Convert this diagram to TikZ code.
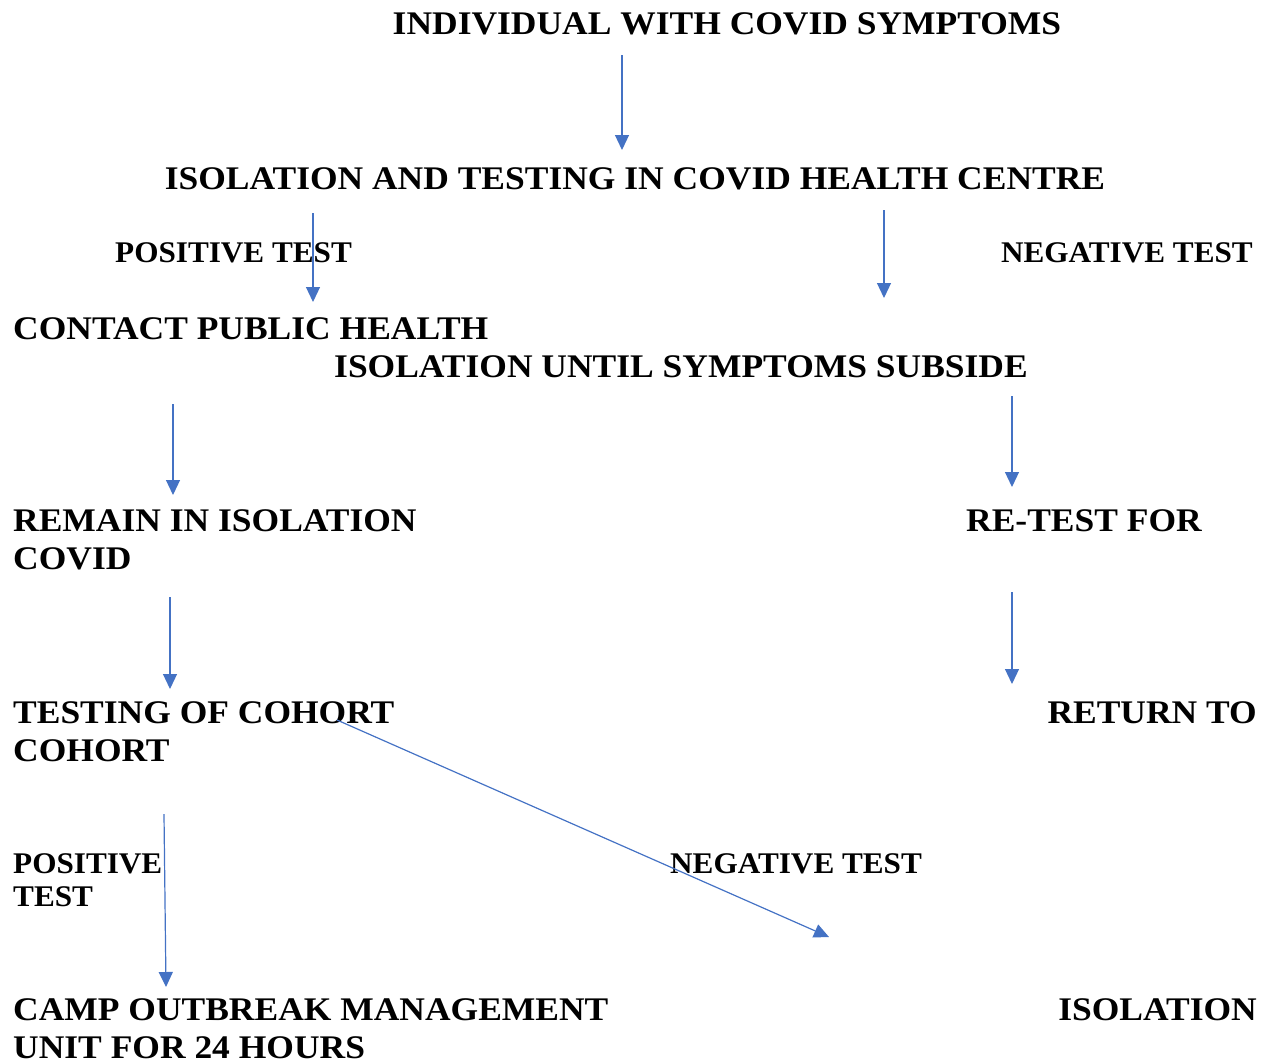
\documentclass[tikz,border=0pt]{standalone}
\usepackage{fontspec}
\setmainfont{Liberation Serif}
\newfontfamily\bigfont[FakeStretch=1.075]{Liberation Serif}
\newfontfamily\smallfont[FakeStretch=1.04]{Liberation Serif}
\usetikzlibrary{arrows.meta}
\definecolor{arrowblue}{HTML}{4472C4}
\tikzset{
  big/.style={inner sep=0pt, font=\bigfont\fontsize{33}{38}\selectfont\bfseries, align=left},
  small/.style={inner sep=0pt, font=\smallfont\fontsize{30}{33}\selectfont\bfseries, align=left},
  flow/.style={draw=arrowblue, line width=1.2pt, -{Triangle[length=15pt,width=14pt]}},
}
\begin{document}
\begin{tikzpicture}[x=1pt,y=-1pt]
\useasboundingbox (0,0) rectangle (1270,1061);
% texts (base anchor = baseline of last line)
\node[big, anchor=base] (ind) at (727,34) {INDIVIDUAL WITH COVID SYMPTOMS};
\node[big, anchor=base] (iso) at (635,189) {ISOLATION AND TESTING IN COVID HEALTH CENTRE};
\node[small, anchor=base west] (pos1) at (115,262) {POSITIVE TEST};
\node[small, anchor=base east] (neg1) at (1253,262) {NEGATIVE TEST};
\node[big, anchor=base west] (cph) at (13,339) {CONTACT PUBLIC HEALTH};
\node[big, anchor=base] (ius) at (681,377) {ISOLATION UNTIL SYMPTOMS SUBSIDE};
\node[big, anchor=base west] (rem) at (13,569) {REMAIN IN ISOLATION\\COVID};
\node[big, anchor=base west] (ret) at (966,531) {RE-TEST FOR};
\node[big, anchor=base west] (toc) at (13,761) {TESTING OF COHORT\\COHORT};
\node[big, anchor=base east] (rtn) at (1257,723) {RETURN TO};
\node[small, anchor=base west] (pos2) at (13,906) {POSITIVE\\TEST};
\node[small, anchor=base west] (neg2) at (670,873) {NEGATIVE TEST};
\node[big, anchor=base west] (camp) at (13,1058) {CAMP OUTBREAK MANAGEMENT\\UNIT FOR 24 HOURS};
\node[big, anchor=base east] (isol) at (1257,1020) {ISOLATION};
% arrow end points
\coordinate (a1) at (622,55);  \coordinate (a2) at (622,150);
\coordinate (b1) at (313,213); \coordinate (b2) at (313,302);
\coordinate (c1) at (884,210); \coordinate (c2) at (884,298);
\coordinate (d1) at (173,404); \coordinate (d2) at (173,495);
\coordinate (e1) at (1012,396);\coordinate (e2) at (1012,487);
\coordinate (f1) at (170,597); \coordinate (f2) at (170,689);
\coordinate (g1) at (1012,592);\coordinate (g2) at (1012,684);
\coordinate (h1) at (164,814); \coordinate (h2) at (166,987);
\coordinate (i1) at (337,720); \coordinate (i2) at (829,937);
% arrows
\draw[flow] (a1) -- (a2);
\draw[flow] (b1) -- (b2);
\draw[flow] (c1) -- (c2);
\draw[flow] (d1) -- (d2);
\draw[flow] (e1) -- (e2);
\draw[flow] (f1) -- (f2);
\draw[flow] (g1) -- (g2);
\draw[flow] (h1) -- (h2);
\draw[flow] (i1) -- (i2);
\end{tikzpicture}
\end{document}
